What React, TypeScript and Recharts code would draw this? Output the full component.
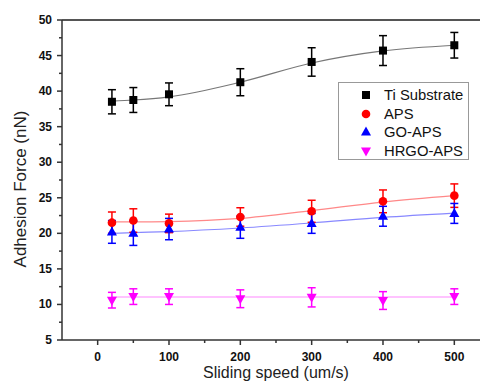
import {
  ComposedChart,
  Line,
  Scatter,
  ErrorBar,
  XAxis,
  YAxis,
  ReferenceLine
} from 'recharts';

// sliding speeds (um/s)
const speeds = [20, 50, 100, 200, 300, 400, 500];

// measured adhesion force (nN) and error
const tiForce = [38.5, 38.75, 39.55, 41.25, 44.1, 45.7, 46.45];
const tiError = [1.7, 1.75, 1.6, 1.9, 2.0, 2.1, 1.8];
const apsForce = [21.5, 21.8, 21.4, 22.3, 23.1, 24.5, 25.3];
const apsError = [1.5, 1.65, 1.3, 1.3, 1.55, 1.6, 1.65];
const goForce = [20.2, 20.0, 20.6, 20.85, 21.4, 22.4, 22.8];
const goError = [1.6, 1.7, 1.5, 1.55, 1.4, 1.4, 1.4];
const hrgoForce = [10.6, 11.1, 11.1, 10.8, 11.0, 10.55, 11.1];
const hrgoError = [1.1, 1.1, 1.1, 1.25, 1.35, 1.25, 1.1];

// fitted curves
const tiFit = [38.6, 38.75, 39.2, 41.25, 43.95, 45.65, 46.45];
const apsFit = [21.6, 21.6, 21.65, 22.1, 23.2, 24.4, 25.3];
const goFit = [20.0, 20.1, 20.25, 20.75, 21.45, 22.25, 22.85];
const hrgoFit = [11.05, 11.05, 11.05, 11.05, 11.05, 11.05, 11.05];

const xTicks = [0, 50, 100, 150, 200, 250, 300, 350, 400, 450, 500];
const yTicks = [5, 7.5, 10, 12.5, 15, 17.5, 20, 22.5, 25, 27.5, 30, 32.5, 35, 37.5, 40, 42.5, 45, 47.5, 50];

const rows = speeds.map((x, i) => ({
  x,
  ti: tiForce[i],
  tiErr: tiError[i],
  tiFit: tiFit[i],
  aps: apsForce[i],
  apsErr: apsError[i],
  apsFit: apsFit[i],
  go: goForce[i],
  goErr: goError[i],
  goFit: goFit[i],
  hrgo: hrgoForce[i],
  hrgoErr: hrgoError[i],
  hrgoFit: hrgoFit[i]
}));

const FONT = '"Liberation Sans", Arial, sans-serif';
const AXIS = '#333';

type Kind = 'square' | 'circle' | 'up' | 'down';

function Marker({ kind, cx, cy, color }: { kind: Kind; cx: number; cy: number; color: string }) {
  if (kind === 'square') return <rect x={cx - 4} y={cy - 4} width={8} height={8} fill={color} />;
  if (kind === 'circle') return <circle cx={cx} cy={cy} r={4.3} fill={color} />;
  if (kind === 'up')
    return <polygon points={`${cx},${cy - 5.5} ${cx - 5},${cy + 3.5} ${cx + 5},${cy + 3.5}`} fill={color} />;
  return <polygon points={`${cx},${cy + 5.5} ${cx - 5},${cy - 3.5} ${cx + 5},${cy - 3.5}`} fill={color} />;
}

const shapeOf = (kind: Kind, color: string) => (props: any) =>
  <Marker kind={kind} cx={props.cx} cy={props.cy} color={color} />;

const series = [
  { key: 'ti', name: 'Ti Substrate', kind: 'square' as Kind, color: '#000000', fitColor: '#777777' },
  { key: 'aps', name: 'APS', kind: 'circle' as Kind, color: '#ff0000', fitColor: '#ff8888' },
  { key: 'go', name: 'GO-APS', kind: 'up' as Kind, color: '#0000ff', fitColor: '#8888ff' },
  { key: 'hrgo', name: 'HRGO-APS', kind: 'down' as Kind, color: '#ff00ff', fitColor: '#ff88ff' }
];

function XTick({ x, y, payload }: any) {
  const major = payload.value % 100 === 0;
  return (
    <g>
      <line x1={x} x2={x} y1={y} y2={y + (major ? 5 : 3)} stroke={AXIS} strokeWidth={1.5} />
      {major && (
        <text x={x} y={y + 21} textAnchor="middle" fontSize={12} fontWeight="bold" fill="#111" fontFamily={FONT}>
          {payload.value}
        </text>
      )}
    </g>
  );
}

function YTick({ x, y, payload }: any) {
  const major = payload.value % 5 === 0;
  return (
    <g>
      <line x1={x - (major ? 5 : 3)} x2={x} y1={y} y2={y} stroke={AXIS} strokeWidth={1.5} />
      {major && (
        <text x={x - 10} y={y + 4} textAnchor="end" fontSize={12} fontWeight="bold" fill="#111" fontFamily={FONT}>
          {payload.value}
        </text>
      )}
    </g>
  );
}

function LegendBox() {
  return (
    <div
      style={{
        position: 'absolute',
        left: 338,
        top: 82,
        width: 129,
        height: 76,
        border: '1px solid #999',
        background: '#fff',
        fontFamily: FONT,
        fontSize: 14.8,
        color: '#111'
      }}
    >
      {series.map((s, i) => (
        <div key={s.key} style={{ position: 'absolute', left: 0, top: 3 + i * 18.7, height: 18, width: '100%' }}>
          <svg width={20} height={18} style={{ position: 'absolute', left: 17, top: 0 }}>
            <Marker kind={s.kind} cx={10} cy={9} color={s.color} />
          </svg>
          <span style={{ position: 'absolute', left: 45, top: 0, lineHeight: '18px', whiteSpace: 'nowrap' }}>
            {s.name}
          </span>
        </div>
      ))}
    </div>
  );
}

export default function App() {
  return (
    <div style={{ position: 'absolute', left: 0, top: 0, width: 480, height: 381, background: '#fff' }}>
      <ComposedChart width={480} height={381} data={rows} margin={{ top: 20, right: 0, bottom: 0, left: 0 }}>
        <XAxis
          dataKey="x"
          type="number"
          domain={[-50, 536]}
          allowDataOverflow
          ticks={xTicks}
          interval={0}
          height={41}
          tickSize={0}
          tickMargin={0}
          tickLine={false}
          tick={<XTick />}
          axisLine={{ stroke: AXIS, strokeWidth: 1.5 }}
          label={{
            value: 'Sliding speed (um/s)',
            position: 'center',
            dx: 5,
            dy: 12,
            fontSize: 16,
            fill: '#222',
            fontFamily: FONT
          }}
        />
        <YAxis
          type="number"
          domain={[5, 50]}
          ticks={yTicks}
          interval={0}
          width={62}
          tickSize={0}
          tickMargin={0}
          tickLine={false}
          tick={<YTick />}
          axisLine={{ stroke: AXIS, strokeWidth: 1.5 }}
          label={{
            value: 'Adhesion Force (nN)',
            angle: -90,
            position: 'center',
            dx: -11,
            dy: 9,
            fontSize: 17,
            fill: '#222',
            fontFamily: FONT
          }}
        />
        <ReferenceLine y={50} stroke="#555" strokeWidth={2} ifOverflow="visible" />
        {series.map((s) => (
          <Line
            key={`${s.key}Fit`}
            dataKey={`${s.key}Fit`}
            type="monotone"
            stroke={s.fitColor}
            strokeWidth={1.2}
            dot={false}
            activeDot={false}
            legendType="none"
            isAnimationActive={false}
          />
        ))}
        {series.map((s) => (
          <Scatter
            key={s.key}
            name={s.name}
            dataKey={s.key}
            fill={s.color}
            shape={shapeOf(s.kind, s.color)}
            isAnimationActive={false}
          >
            <ErrorBar dataKey={`${s.key}Err`} direction="y" width={4} stroke={s.color} strokeWidth={1.5} />
          </Scatter>
        ))}
      </ComposedChart>
      <LegendBox />
    </div>
  );
}
